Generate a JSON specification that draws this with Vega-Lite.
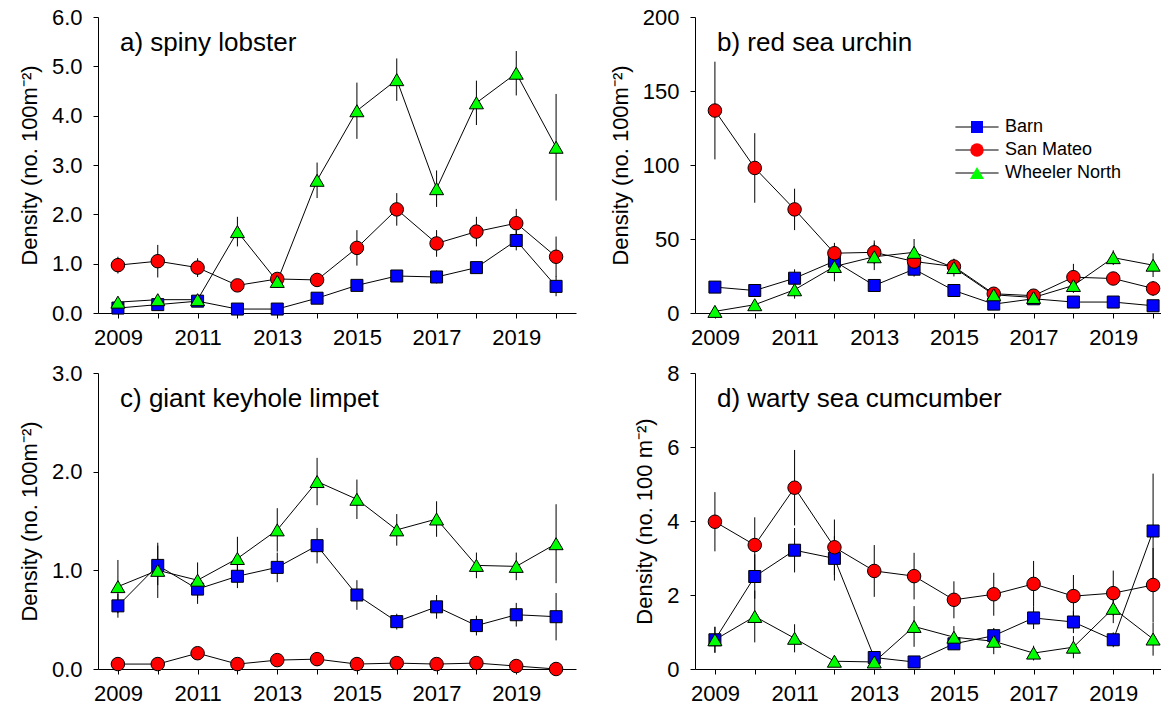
{
  "$schema": "https://vega.github.io/schema/vega-lite/v6.json",
  "background": "white",
  "padding": {"left": 18, "top": 6, "right": 0, "bottom": 0},
  "config": {
    "font": "Liberation Sans",
    "view": {"stroke": null},
    "axis": {
      "grid": false,
      "domainColor": "#000",
      "domainWidth": 1,
      "tickColor": "#000",
      "tickWidth": 1,
      "tickSize": 5,
      "labelFont": "Liberation Sans",
      "labelFontSize": 22,
      "labelColor": "#000",
      "titleFont": "Liberation Sans",
      "titleFontSize": 22,
      "titleFontWeight": "normal",
      "titleColor": "#000"
    },
    "axisX": {"labelPadding": 9, "labelFlush": false, "labelOverlap": false},
    "axisY": {"labelPadding": 11, "titlePadding": 10},
    "title": {"font": "Liberation Sans", "fontSize": 26, "fontWeight": "normal", "color": "#000", "anchor": "start", "frame": "group", "baseline": "alphabetic", "offset": -50, "dx": 22},
    "legend": {"labelFont": "Liberation Sans", "labelFontSize": 18, "labelColor": "#000", "rowPadding": 5}
  },
  "data": {
    "values": [
      {"panel": "a", "site": "Barn", "year": 2009, "density": 0.10, "se": 0.05},
      {"panel": "a", "site": "Barn", "year": 2010, "density": 0.17, "se": 0.05},
      {"panel": "a", "site": "Barn", "year": 2011, "density": 0.24, "se": 0.06},
      {"panel": "a", "site": "Barn", "year": 2012, "density": 0.08, "se": 0.03},
      {"panel": "a", "site": "Barn", "year": 2013, "density": 0.08, "se": 0.03},
      {"panel": "a", "site": "Barn", "year": 2014, "density": 0.30, "se": 0.06},
      {"panel": "a", "site": "Barn", "year": 2015, "density": 0.56, "se": 0.09},
      {"panel": "a", "site": "Barn", "year": 2016, "density": 0.75, "se": 0.10},
      {"panel": "a", "site": "Barn", "year": 2017, "density": 0.73, "se": 0.13},
      {"panel": "a", "site": "Barn", "year": 2018, "density": 0.92, "se": 0.12},
      {"panel": "a", "site": "Barn", "year": 2019, "density": 1.47, "se": 0.20},
      {"panel": "a", "site": "Barn", "year": 2020, "density": 0.54, "se": 0.20},
      {"panel": "a", "site": "San Mateo", "year": 2009, "density": 0.97, "se": 0.17},
      {"panel": "a", "site": "San Mateo", "year": 2010, "density": 1.05, "se": 0.33},
      {"panel": "a", "site": "San Mateo", "year": 2011, "density": 0.92, "se": 0.19},
      {"panel": "a", "site": "San Mateo", "year": 2012, "density": 0.56, "se": 0.05},
      {"panel": "a", "site": "San Mateo", "year": 2013, "density": 0.69, "se": 0.10},
      {"panel": "a", "site": "San Mateo", "year": 2014, "density": 0.67, "se": 0.05},
      {"panel": "a", "site": "San Mateo", "year": 2015, "density": 1.32, "se": 0.36},
      {"panel": "a", "site": "San Mateo", "year": 2016, "density": 2.10, "se": 0.33},
      {"panel": "a", "site": "San Mateo", "year": 2017, "density": 1.41, "se": 0.27},
      {"panel": "a", "site": "San Mateo", "year": 2018, "density": 1.65, "se": 0.30},
      {"panel": "a", "site": "San Mateo", "year": 2019, "density": 1.82, "se": 0.29},
      {"panel": "a", "site": "San Mateo", "year": 2020, "density": 1.14, "se": 0.41},
      {"panel": "a", "site": "Wheeler North", "year": 2009, "density": 0.22, "se": 0.05},
      {"panel": "a", "site": "Wheeler North", "year": 2010, "density": 0.27, "se": 0.05},
      {"panel": "a", "site": "Wheeler North", "year": 2011, "density": 0.27, "se": 0.05},
      {"panel": "a", "site": "Wheeler North", "year": 2012, "density": 1.65, "se": 0.30},
      {"panel": "a", "site": "Wheeler North", "year": 2013, "density": 0.64, "se": 0.13},
      {"panel": "a", "site": "Wheeler North", "year": 2014, "density": 2.69, "se": 0.36},
      {"panel": "a", "site": "Wheeler North", "year": 2015, "density": 4.10, "se": 0.57},
      {"panel": "a", "site": "Wheeler North", "year": 2016, "density": 4.73, "se": 0.43},
      {"panel": "a", "site": "Wheeler North", "year": 2017, "density": 2.52, "se": 0.37},
      {"panel": "a", "site": "Wheeler North", "year": 2018, "density": 4.26, "se": 0.45},
      {"panel": "a", "site": "Wheeler North", "year": 2019, "density": 4.86, "se": 0.45},
      {"panel": "a", "site": "Wheeler North", "year": 2020, "density": 3.36, "se": 1.08},

      {"panel": "b", "site": "Barn", "year": 2009, "density": 17.5, "se": 4},
      {"panel": "b", "site": "Barn", "year": 2010, "density": 15.2, "se": 4},
      {"panel": "b", "site": "Barn", "year": 2011, "density": 23.5, "se": 6},
      {"panel": "b", "site": "Barn", "year": 2012, "density": 35.0, "se": 8},
      {"panel": "b", "site": "Barn", "year": 2013, "density": 18.6, "se": 3},
      {"panel": "b", "site": "Barn", "year": 2014, "density": 29.6, "se": 5},
      {"panel": "b", "site": "Barn", "year": 2015, "density": 15.2, "se": 4},
      {"panel": "b", "site": "Barn", "year": 2016, "density": 6.0, "se": 2},
      {"panel": "b", "site": "Barn", "year": 2017, "density": 9.6, "se": 2},
      {"panel": "b", "site": "Barn", "year": 2018, "density": 7.4, "se": 2},
      {"panel": "b", "site": "Barn", "year": 2019, "density": 7.4, "se": 2},
      {"panel": "b", "site": "Barn", "year": 2020, "density": 4.9, "se": 2},
      {"panel": "b", "site": "San Mateo", "year": 2009, "density": 136.8, "se": 33},
      {"panel": "b", "site": "San Mateo", "year": 2010, "density": 98.0, "se": 23.5},
      {"panel": "b", "site": "San Mateo", "year": 2011, "density": 70.0, "se": 14},
      {"panel": "b", "site": "San Mateo", "year": 2012, "density": 40.4, "se": 7},
      {"panel": "b", "site": "San Mateo", "year": 2013, "density": 41.0, "se": 8},
      {"panel": "b", "site": "San Mateo", "year": 2014, "density": 34.8, "se": 8},
      {"panel": "b", "site": "San Mateo", "year": 2015, "density": 31.4, "se": 5},
      {"panel": "b", "site": "San Mateo", "year": 2016, "density": 13.0, "se": 2},
      {"panel": "b", "site": "San Mateo", "year": 2017, "density": 11.7, "se": 2},
      {"panel": "b", "site": "San Mateo", "year": 2018, "density": 24.2, "se": 9},
      {"panel": "b", "site": "San Mateo", "year": 2019, "density": 23.3, "se": 4},
      {"panel": "b", "site": "San Mateo", "year": 2020, "density": 16.6, "se": 5},
      {"panel": "b", "site": "Wheeler North", "year": 2009, "density": 1.1, "se": 0.5},
      {"panel": "b", "site": "Wheeler North", "year": 2010, "density": 5.6, "se": 2},
      {"panel": "b", "site": "Wheeler North", "year": 2011, "density": 15.7, "se": 6},
      {"panel": "b", "site": "Wheeler North", "year": 2012, "density": 31.4, "se": 10},
      {"panel": "b", "site": "Wheeler North", "year": 2013, "density": 38.0, "se": 9},
      {"panel": "b", "site": "Wheeler North", "year": 2014, "density": 41.0, "se": 9},
      {"panel": "b", "site": "Wheeler North", "year": 2015, "density": 30.7, "se": 6},
      {"panel": "b", "site": "Wheeler North", "year": 2016, "density": 12.3, "se": 3},
      {"panel": "b", "site": "Wheeler North", "year": 2017, "density": 10.5, "se": 2},
      {"panel": "b", "site": "Wheeler North", "year": 2018, "density": 18.6, "se": 5},
      {"panel": "b", "site": "Wheeler North", "year": 2019, "density": 37.4, "se": 5},
      {"panel": "b", "site": "Wheeler North", "year": 2020, "density": 32.3, "se": 8},

      {"panel": "c", "site": "Barn", "year": 2009, "density": 0.64, "se": 0.12},
      {"panel": "c", "site": "Barn", "year": 2010, "density": 1.05, "se": 0.20},
      {"panel": "c", "site": "Barn", "year": 2011, "density": 0.81, "se": 0.15},
      {"panel": "c", "site": "Barn", "year": 2012, "density": 0.94, "se": 0.12},
      {"panel": "c", "site": "Barn", "year": 2013, "density": 1.03, "se": 0.15},
      {"panel": "c", "site": "Barn", "year": 2014, "density": 1.25, "se": 0.18},
      {"panel": "c", "site": "Barn", "year": 2015, "density": 0.75, "se": 0.15},
      {"panel": "c", "site": "Barn", "year": 2016, "density": 0.48, "se": 0.08},
      {"panel": "c", "site": "Barn", "year": 2017, "density": 0.63, "se": 0.12},
      {"panel": "c", "site": "Barn", "year": 2018, "density": 0.44, "se": 0.10},
      {"panel": "c", "site": "Barn", "year": 2019, "density": 0.55, "se": 0.12},
      {"panel": "c", "site": "Barn", "year": 2020, "density": 0.53, "se": 0.24},
      {"panel": "c", "site": "San Mateo", "year": 2009, "density": 0.05, "se": 0.02},
      {"panel": "c", "site": "San Mateo", "year": 2010, "density": 0.05, "se": 0.02},
      {"panel": "c", "site": "San Mateo", "year": 2011, "density": 0.16, "se": 0.03},
      {"panel": "c", "site": "San Mateo", "year": 2012, "density": 0.05, "se": 0.02},
      {"panel": "c", "site": "San Mateo", "year": 2013, "density": 0.09, "se": 0.02},
      {"panel": "c", "site": "San Mateo", "year": 2014, "density": 0.10, "se": 0.02},
      {"panel": "c", "site": "San Mateo", "year": 2015, "density": 0.05, "se": 0.02},
      {"panel": "c", "site": "San Mateo", "year": 2016, "density": 0.06, "se": 0.02},
      {"panel": "c", "site": "San Mateo", "year": 2017, "density": 0.05, "se": 0.02},
      {"panel": "c", "site": "San Mateo", "year": 2018, "density": 0.06, "se": 0.02},
      {"panel": "c", "site": "San Mateo", "year": 2019, "density": 0.03, "se": 0.01},
      {"panel": "c", "site": "San Mateo", "year": 2020, "density": 0.0, "se": 0.0},
      {"panel": "c", "site": "Wheeler North", "year": 2009, "density": 0.835, "se": 0.27},
      {"panel": "c", "site": "Wheeler North", "year": 2010, "density": 1.0, "se": 0.28},
      {"panel": "c", "site": "Wheeler North", "year": 2011, "density": 0.90, "se": 0.18},
      {"panel": "c", "site": "Wheeler North", "year": 2012, "density": 1.12, "se": 0.22},
      {"panel": "c", "site": "Wheeler North", "year": 2013, "density": 1.41, "se": 0.22},
      {"panel": "c", "site": "Wheeler North", "year": 2014, "density": 1.90, "se": 0.24},
      {"panel": "c", "site": "Wheeler North", "year": 2015, "density": 1.72, "se": 0.20},
      {"panel": "c", "site": "Wheeler North", "year": 2016, "density": 1.41, "se": 0.16},
      {"panel": "c", "site": "Wheeler North", "year": 2017, "density": 1.52, "se": 0.18},
      {"panel": "c", "site": "Wheeler North", "year": 2018, "density": 1.05, "se": 0.13},
      {"panel": "c", "site": "Wheeler North", "year": 2019, "density": 1.04, "se": 0.14},
      {"panel": "c", "site": "Wheeler North", "year": 2020, "density": 1.27, "se": 0.40},

      {"panel": "d", "site": "Barn", "year": 2009, "density": 0.79, "se": 0.35},
      {"panel": "d", "site": "Barn", "year": 2010, "density": 2.50, "se": 0.60},
      {"panel": "d", "site": "Barn", "year": 2011, "density": 3.21, "se": 0.60},
      {"panel": "d", "site": "Barn", "year": 2012, "density": 2.99, "se": 0.60},
      {"panel": "d", "site": "Barn", "year": 2013, "density": 0.31, "se": 0.10},
      {"panel": "d", "site": "Barn", "year": 2014, "density": 0.19, "se": 0.05},
      {"panel": "d", "site": "Barn", "year": 2015, "density": 0.68, "se": 0.15},
      {"panel": "d", "site": "Barn", "year": 2016, "density": 0.90, "se": 0.20},
      {"panel": "d", "site": "Barn", "year": 2017, "density": 1.38, "se": 0.30},
      {"panel": "d", "site": "Barn", "year": 2018, "density": 1.27, "se": 0.30},
      {"panel": "d", "site": "Barn", "year": 2019, "density": 0.79, "se": 0.20},
      {"panel": "d", "site": "Barn", "year": 2020, "density": 3.73, "se": 1.55},
      {"panel": "d", "site": "San Mateo", "year": 2009, "density": 3.98, "se": 0.80},
      {"panel": "d", "site": "San Mateo", "year": 2010, "density": 3.35, "se": 0.75},
      {"panel": "d", "site": "San Mateo", "year": 2011, "density": 4.90, "se": 1.02},
      {"panel": "d", "site": "San Mateo", "year": 2012, "density": 3.29, "se": 0.75},
      {"panel": "d", "site": "San Mateo", "year": 2013, "density": 2.65, "se": 0.70},
      {"panel": "d", "site": "San Mateo", "year": 2014, "density": 2.51, "se": 0.63},
      {"panel": "d", "site": "San Mateo", "year": 2015, "density": 1.87, "se": 0.50},
      {"panel": "d", "site": "San Mateo", "year": 2016, "density": 2.02, "se": 0.58},
      {"panel": "d", "site": "San Mateo", "year": 2017, "density": 2.30, "se": 0.62},
      {"panel": "d", "site": "San Mateo", "year": 2018, "density": 1.97, "se": 0.57},
      {"panel": "d", "site": "San Mateo", "year": 2019, "density": 2.05, "se": 0.61},
      {"panel": "d", "site": "San Mateo", "year": 2020, "density": 2.27, "se": 1.00},
      {"panel": "d", "site": "Wheeler North", "year": 2009, "density": 0.79, "se": 0.35},
      {"panel": "d", "site": "Wheeler North", "year": 2010, "density": 1.42, "se": 0.70},
      {"panel": "d", "site": "Wheeler North", "year": 2011, "density": 0.83, "se": 0.38},
      {"panel": "d", "site": "Wheeler North", "year": 2012, "density": 0.21, "se": 0.05},
      {"panel": "d", "site": "Wheeler North", "year": 2013, "density": 0.19, "se": 0.05},
      {"panel": "d", "site": "Wheeler North", "year": 2014, "density": 1.15, "se": 0.55},
      {"panel": "d", "site": "Wheeler North", "year": 2015, "density": 0.86, "se": 0.30},
      {"panel": "d", "site": "Wheeler North", "year": 2016, "density": 0.75, "se": 0.35},
      {"panel": "d", "site": "Wheeler North", "year": 2017, "density": 0.43, "se": 0.20},
      {"panel": "d", "site": "Wheeler North", "year": 2018, "density": 0.59, "se": 0.30},
      {"panel": "d", "site": "Wheeler North", "year": 2019, "density": 1.64, "se": 0.40},
      {"panel": "d", "site": "Wheeler North", "year": 2020, "density": 0.81, "se": 0.45}
    ]
  },
  "columns": 2,
  "spacing": {"row": 14, "column": 33},
  "concat": [
    {
      "width": 478, "height": 296,
      "title": {"text": "a) spiny lobster"},
      "transform": [{"filter": "datum.panel === 'a'"}],
      "encoding": {
        "x": {"field": "year", "type": "quantitative", "scale": {"domain": [2008.5, 2020.5], "nice": false, "zero": false},
              "axis": {"title": null, "values": [2009, 2010, 2011, 2012, 2013, 2014, 2015, 2016, 2017, 2018, 2019, 2020], "format": "d", "labelExpr": "datum.value % 2 === 1 ? datum.label : ''"}},
        "y": {"field": "density", "type": "quantitative", "title": "Density (no. 100m⁻²)", "scale": {"domain": [0, 6], "nice": false},
              "axis": {"values": [0, 1, 2, 3, 4, 5, 6], "format": ".1f"}}
      },
      "layer": [
        {"mark": {"type": "errorbar", "color": "#000", "thickness": 1}, "encoding": {"yError": {"field": "se"}}},
        {"mark": {"type": "line", "strokeWidth": 1},
         "encoding": {"stroke": {"field": "site", "type": "nominal",
           "scale": {"domain": ["Barn", "San Mateo", "Wheeler North"], "range": ["#000", "#000", "#000"]},
           "legend": {"title": null, "orient": "none", "legendX": 870, "legendY": 101, "zindex": 0, "symbolType": "M-3.2,0H3.2", "symbolSize": 182, "symbolStrokeWidth": 1, "labelOpacity": 0, "labelOffset": 19}}}},
        {"mark": {"type": "point", "filled": true, "opacity": 1, "stroke": "#000", "strokeWidth": 1, "size": 182},
         "encoding": {
           "fill": {"field": "site", "type": "nominal", "scale": {"range": ["#0000ff", "#ff0000", "#00ff00"]},
             "legend": {"title": null, "orient": "none", "legendX": 870, "legendY": 101, "zindex": 1, "symbolSize": 182, "symbolStrokeColor": "#000", "symbolStrokeWidth": 1, "symbolOpacity": 1, "labelOffset": 19}},
           "shape": {"field": "site", "type": "nominal", "scale": {"range": ["M-0.89,-0.89H0.89V0.89H-0.89Z", "circle", "M0,-0.89L1.04,0.89L-1.04,0.89Z"]},
             "legend": {"title": null, "orient": "none", "legendX": 870, "legendY": 101, "zindex": 1, "symbolSize": 182, "symbolStrokeColor": "#000", "symbolStrokeWidth": 1, "symbolOpacity": 1, "labelOffset": 19}}
         }}
      ]
    },
    {
      "width": 478, "height": 296,
      "title": {"text": "b) red sea urchin"},
      "transform": [{"filter": "datum.panel === 'b'"}],
      "encoding": {
        "x": {"field": "year", "type": "quantitative", "scale": {"domain": [2008.5, 2020.5], "nice": false, "zero": false},
              "axis": {"title": null, "values": [2009, 2010, 2011, 2012, 2013, 2014, 2015, 2016, 2017, 2018, 2019, 2020], "format": "d", "labelExpr": "datum.value % 2 === 1 ? datum.label : ''"}},
        "y": {"field": "density", "type": "quantitative", "title": "Density (no. 100m⁻²)", "scale": {"domain": [0, 200], "nice": false},
              "axis": {"values": [0, 50, 100, 150, 200], "format": "d"}}
      },
      "layer": [
        {"mark": {"type": "errorbar", "color": "#000", "thickness": 1}, "encoding": {"yError": {"field": "se"}}},
        {"mark": {"type": "line", "strokeWidth": 1},
         "encoding": {"stroke": {"field": "site", "type": "nominal", "scale": {"domain": ["Barn", "San Mateo", "Wheeler North"], "range": ["#000", "#000", "#000"]}}}},
        {"mark": {"type": "point", "filled": true, "opacity": 1, "stroke": "#000", "strokeWidth": 1, "size": 182},
         "encoding": {
           "fill": {"field": "site", "type": "nominal"},
           "shape": {"field": "site", "type": "nominal"}
         }}
      ]
    },
    {
      "width": 478, "height": 296,
      "title": {"text": "c) giant keyhole limpet"},
      "transform": [{"filter": "datum.panel === 'c'"}],
      "encoding": {
        "x": {"field": "year", "type": "quantitative", "scale": {"domain": [2008.5, 2020.5], "nice": false, "zero": false},
              "axis": {"title": null, "values": [2009, 2010, 2011, 2012, 2013, 2014, 2015, 2016, 2017, 2018, 2019, 2020], "format": "d", "labelExpr": "datum.value % 2 === 1 ? datum.label : ''"}},
        "y": {"field": "density", "type": "quantitative", "title": "Density (no. 100m⁻²)", "scale": {"domain": [0, 3], "nice": false},
              "axis": {"values": [0, 1, 2, 3], "format": ".1f"}}
      },
      "layer": [
        {"mark": {"type": "errorbar", "color": "#000", "thickness": 1}, "encoding": {"yError": {"field": "se"}}},
        {"mark": {"type": "line", "strokeWidth": 1},
         "encoding": {"stroke": {"field": "site", "type": "nominal", "scale": {"domain": ["Barn", "San Mateo", "Wheeler North"], "range": ["#000", "#000", "#000"]}}}},
        {"mark": {"type": "point", "filled": true, "opacity": 1, "stroke": "#000", "strokeWidth": 1, "size": 182},
         "encoding": {
           "fill": {"field": "site", "type": "nominal"},
           "shape": {"field": "site", "type": "nominal"}
         }}
      ]
    },
    {
      "width": 478, "height": 296,
      "title": {"text": "d) warty sea cumcumber"},
      "transform": [{"filter": "datum.panel === 'd'"}],
      "encoding": {
        "x": {"field": "year", "type": "quantitative", "scale": {"domain": [2008.5, 2020.5], "nice": false, "zero": false},
              "axis": {"title": null, "values": [2009, 2010, 2011, 2012, 2013, 2014, 2015, 2016, 2017, 2018, 2019, 2020], "format": "d", "labelExpr": "datum.value % 2 === 1 ? datum.label : ''"}},
        "y": {"field": "density", "type": "quantitative", "title": "Density (no. 100 m⁻²)", "scale": {"domain": [0, 8], "nice": false},
              "axis": {"values": [0, 2, 4, 6, 8], "format": "d"}}
      },
      "layer": [
        {"mark": {"type": "errorbar", "color": "#000", "thickness": 1}, "encoding": {"yError": {"field": "se"}}},
        {"mark": {"type": "line", "strokeWidth": 1},
         "encoding": {"stroke": {"field": "site", "type": "nominal", "scale": {"domain": ["Barn", "San Mateo", "Wheeler North"], "range": ["#000", "#000", "#000"]}}}},
        {"mark": {"type": "point", "filled": true, "opacity": 1, "stroke": "#000", "strokeWidth": 1, "size": 182},
         "encoding": {
           "fill": {"field": "site", "type": "nominal"},
           "shape": {"field": "site", "type": "nominal"}
         }}
      ]
    }
  ]
}
